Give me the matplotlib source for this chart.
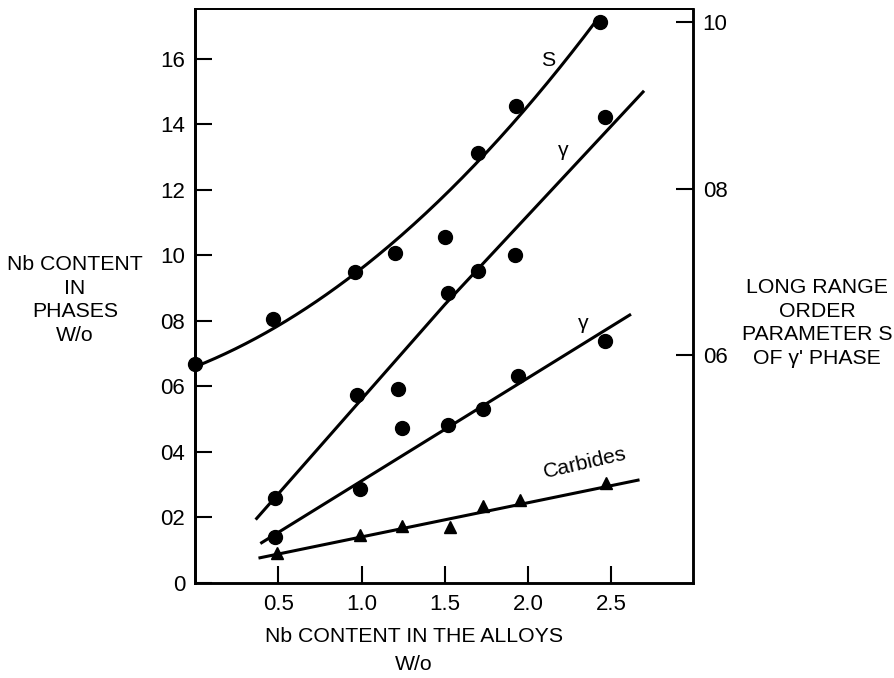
import matplotlib
matplotlib.use("Agg")
import matplotlib.pyplot as plt
import numpy as np

plt.rcParams['font.family'] = ['Liberation Sans', 'DejaVu Sans']

# ---- data ----
# Long range order parameter S (right axis)
s_x = [0.0, 0.47, 0.96, 1.20, 1.50, 1.70, 1.93, 2.43]
s_y = [0.589, 0.643, 0.700, 0.723, 0.742, 0.843, 0.899, 1.000]
s_curve_x = [0.0, 0.30, 0.50, 0.785, 0.962, 1.512, 1.694, 1.936, 2.42]
s_curve_y = [0.590, 0.616, 0.631, 0.666, 0.694, 0.794, 0.838, 0.895, 0.997]

# gamma' phase (upper line, left axis)
g1_x = [0.48, 0.97, 1.22, 1.52, 1.70, 1.92, 2.46]
g1_y = [2.61, 5.74, 5.91, 8.84, 9.53, 10.01, 14.23]
g1_line_x = [0.37, 1.50, 2.69]
g1_line_y = [1.97, 8.50, 14.99]

# gamma phase (lower line, left axis)
g2_x = [0.48, 0.99, 1.24, 1.52, 1.73, 1.94, 2.46]
g2_y = [1.41, 2.87, 4.72, 4.82, 5.31, 6.32, 7.38]
g2_line_x = [0.40, 2.61]
g2_line_y = [1.23, 8.18]

# Carbides (left axis)
c_x = [0.49, 0.99, 1.24, 1.53, 1.73, 1.95, 2.47]
c_y = [0.93, 1.46, 1.74, 1.72, 2.35, 2.53, 3.04]
c_line_x = [0.39, 2.66]
c_line_y = [0.77, 3.14]

x_ticks = [0.5, 1.0, 1.5, 2.0, 2.5]
x_tick_labels = ["0.5", "1.0", "1.5", "2.0", "2.5"]
left_ticks = [0, 2, 4, 6, 8, 10, 12, 14, 16]
left_tick_labels = ["0", "02", "04", "06", "08", "10", "12", "14", "16"]
right_ticks = [0.6, 0.8, 1.0]
right_tick_labels = ["06", "08", "10"]

# ---- figure ----
fig = plt.figure(figsize=(8.95, 6.78), dpi=100)
ax = fig.add_axes([0.2179, 0.1401, 0.7743 - 0.2179, 0.9867 - 0.1401])
ax2 = ax.twinx()

FS = 15.3
TFS = 16
LW = 2.2
MS = 10

ax.set_xlim(0, 2.99)
ax.set_ylim(0, 17.52)
ax2.set_ylim(0.3259, 1.016)

# S on right axis
coef = np.polyfit(s_curve_x, s_curve_y, 2)
xs = np.linspace(s_curve_x[0], s_curve_x[-1], 200)
ax2.plot(xs, np.polyval(coef, xs), color='black', lw=LW, solid_capstyle='butt')
ax2.plot(s_x, s_y, 'o', color='black', ms=MS, clip_on=False)

ax.plot(g1_line_x, g1_line_y, color='black', lw=LW)
ax.plot(g1_x, g1_y, 'o', color='black', ms=MS)
ax.plot(g2_line_x, g2_line_y, color='black', lw=LW)
ax.plot(g2_x, g2_y, 'o', color='black', ms=MS)
ax.plot(c_line_x, c_line_y, color='black', lw=LW)
ax.plot(c_x, c_y, '^', color='black', ms=8.5)

# annotations
ax.text(2.118, 15.96, "S", fontsize=FS, ha='center', va='center')
ax.text(2.209, 13.21, "γ", fontsize=FS, ha='center', va='center')
ax.text(2.33, 7.93, "γ", fontsize=FS, ha='center', va='center')
ax.text(2.34, 3.65, "Carbides", fontsize=FS, ha='center', va='center', rotation=13)

# ticks
ax.set_xticks(x_ticks)
ax.set_xticklabels(x_tick_labels)
ax.set_yticks(left_ticks)
ax.set_yticklabels(left_tick_labels)
ax2.set_yticks(right_ticks)
ax2.set_yticklabels(right_tick_labels)

ax.tick_params(axis='both', direction='in', length=12, width=1.5, labelsize=TFS, pad=7)
ax.tick_params(axis='x', pad=8)
ax2.tick_params(axis='y', direction='in', length=12, width=1.5, labelsize=TFS, pad=7)

for a in (ax, ax2):
    a.spines['left'].set_linewidth(2.0)
    a.spines['bottom'].set_linewidth(1.8)
    a.spines['right'].set_linewidth(1.8)
    a.spines['top'].set_linewidth(1.3)

# axis labels as free text
fig.text(75 / 895, 1 - 300 / 678, "Nb CONTENT\nIN\nPHASES\nW/o", fontsize=FS,
         ha='center', va='center', linespacing=1.3)
fig.text(817 / 895, 1 - 323 / 678, "LONG RANGE\nORDER\nPARAMETER S\nOF γ' PHASE",
         fontsize=FS, ha='center', va='center', linespacing=1.3)
fig.text(414 / 895, 1 - 651 / 678, "Nb CONTENT IN THE ALLOYS\nW/o", fontsize=FS,
         ha='center', va='center', linespacing=1.6)

fig.savefig("out.png", dpi=100)
